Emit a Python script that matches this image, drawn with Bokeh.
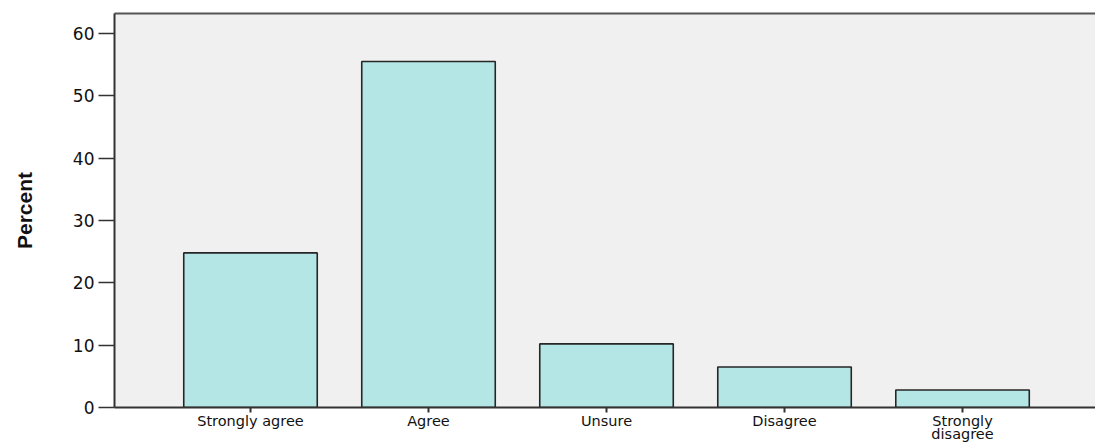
from bokeh.plotting import figure
from bokeh.models import ColumnDataSource, FixedTicker, LinearAxis, Range1d
from bokeh.embed import file_html
from bokeh.resources import INLINE

categories = ["Strongly agree", "Agree", "Unsure", "Disagree", "Strongly\ndisagree"]
percent = [24.8, 55.5, 10.2, 6.5, 2.8]
y_ticks = [0, 10, 20, 30, 40, 50, 60]

positions = list(range(len(categories)))
src = ColumnDataSource(dict(x=positions, top=percent, name=categories))

p = figure(width=1095, height=445, output_backend="svg", toolbar_location=None,
           x_range=Range1d(-0.764, 4.747), y_range=Range1d(0, 63.2),
           min_border_left=114, min_border_right=0, min_border_top=13, min_border_bottom=37)
p.background_fill_color = "#f0f0f0"
p.border_fill_color = "white"
p.outline_line_color = None
p.grid.visible = False

p.vbar(x="x", top="top", width=0.75, source=src, fill_color="#b4e6e6",
       line_color="#262626", line_width=1.6)

font = "DejaVu Sans"
xa = p.xaxis[0]
xa.ticker = FixedTicker(ticks=positions)
xa.major_label_overrides = {i: c for i, c in enumerate(categories)}
xa.axis_line_width = 2
xa.axis_line_color = "#333333"
xa.major_tick_line_color = "#333333"
xa.major_tick_line_width = 2
xa.major_tick_out = 5
xa.major_tick_in = 0
xa.minor_tick_line_color = None
xa.major_label_text_font = font
xa.major_label_text_font_size = "14.5px"
xa.major_label_text_color = "#111111"
xa.major_label_standoff = 0
xa.major_label_text_line_height = 0.85

ya = p.yaxis[0]
ya.ticker = FixedTicker(ticks=y_ticks)
ya.axis_line_width = 2
ya.axis_line_color = "#333333"
ya.major_tick_line_color = "#333333"
ya.major_tick_line_width = 1.5
ya.major_tick_out = 16
ya.major_tick_in = 0
ya.minor_tick_line_color = None
ya.major_label_text_font = font
ya.major_label_text_font_size = "17px"
ya.major_label_text_color = "#111111"
ya.major_label_standoff = 4
ya.axis_label = "Percent"
ya.axis_label_text_font = "Liberation Sans"
ya.axis_label_text_font_style = "bold"
ya.axis_label_text_font_size = "21px"
ya.axis_label_text_color = "#111111"
ya.axis_label_standoff = 34

top_axis = LinearAxis(ticker=FixedTicker(ticks=[]), axis_line_width=2,
                      axis_line_color="#555555", major_tick_line_color=None,
                      minor_tick_line_color=None)
p.add_layout(top_axis, "above")

open("out.html", "w").write(file_html(p, INLINE))
